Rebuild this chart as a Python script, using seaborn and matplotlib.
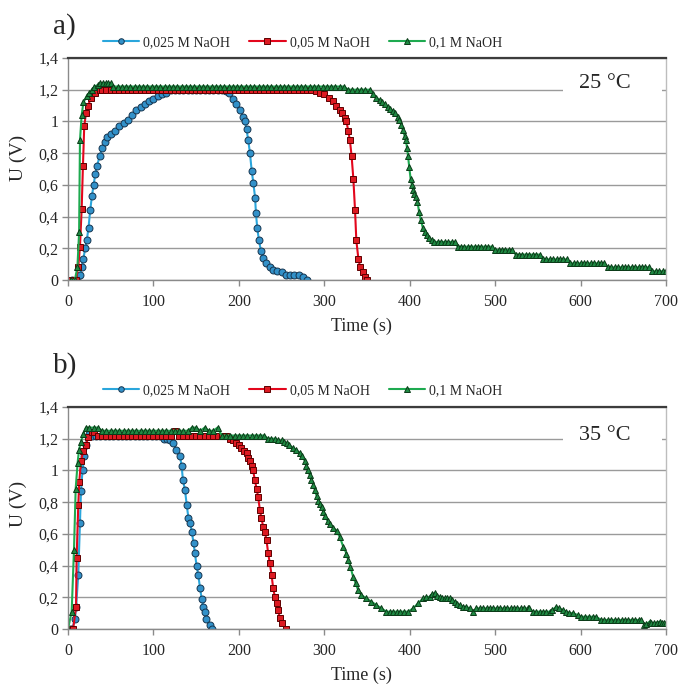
import numpy as np
import pandas as pd
import seaborn as sns
import matplotlib
matplotlib.use("Agg")
import matplotlib.pyplot as plt
from matplotlib.patches import Rectangle

# ---------------- data (time s, U V) ----------------
series_names = ["0,025 M NaOH", "0,05 M NaOH", "0,1 M NaOH"]
panel_labels = ["a)", "b)"]
temps = ["25 °C", "35 °C"]
x_ticks = [0, 100, 200, 300, 400, 500, 600, 700]
y_ticks = [0, 0.2, 0.4, 0.6, 0.8, 1.0, 1.2, 1.4]
y_ticklabels = ["0", "0,2", "0,4", "0,6", "0,8", "1", "1,2", "1,4"]

blue_a = [(5,0),(10,0),(14,0.03),(16,0.08),(18,0.13),(20,0.2),(22,0.25),(24,0.33),(26,0.44),(28,0.53),
          (30,0.6),(32,0.67),(34,0.72),(37,0.78),(40,0.83),(43,0.87),(46,0.9),(50,0.92),(55,0.94),(60,0.97),
          (65,0.99),(70,1.01),(75,1.04),(80,1.07),(85,1.09),(90,1.11),(95,1.13),(100,1.14),(105,1.16),(110,1.17),
          (115,1.18),(120,1.2),(125,1.2),(130,1.2),(135,1.2),(140,1.2),(145,1.2),(150,1.2),(155,1.2),(160,1.2),
          (165,1.2),(170,1.2),(175,1.2),(180,1.2),(185,1.19),(189,1.18),(193,1.14),(197,1.11),(201,1.07),(205,1.03),
          (207,1.0),(209,0.95),(211,0.88),(213,0.8),(215,0.69),(217,0.61),(219,0.52),(220,0.42),(221.5,0.33),(223.5,0.25),
          (226,0.18),(228.5,0.14),(232,0.11),(236,0.08),(240,0.065),(245,0.055),(250,0.05),(255,0.03),(260,0.03),(265,0.03),
          (270,0.03),(275,0.02),(280,0)]

red_a = [(3,0),(6,0),(9,0),(12,0.08),(14,0.21),(16,0.45),(17.5,0.72),(19,0.97),(21,1.05),(23.5,1.1),
         (27,1.15),(32,1.18),(37,1.2),(40,1.2),(45,1.2),(50,1.2),(55,1.2),(60,1.2),(65,1.2),(70,1.2),
         (75,1.2),(80,1.2),(85,1.2),(90,1.2),(95,1.2),(100,1.2),(105,1.2),(110,1.2),(115,1.2),(120,1.2),
         (125,1.2),(130,1.2),(135,1.2),(140,1.2),(145,1.2),(150,1.2),(155,1.2),(160,1.2),(165,1.2),(170,1.2),
         (175,1.2),(180,1.2),(185,1.2),(190,1.2),(195,1.2),(200,1.2),(205,1.2),(210,1.2),(215,1.2),(220,1.2),
         (225,1.2),(230,1.2),(235,1.2),(240,1.2),(245,1.2),(250,1.2),(255,1.2),(260,1.2),(265,1.2),(270,1.2),
         (275,1.2),(280,1.2),(285,1.2),(290,1.19),(295,1.18),(300,1.17),(305,1.15),(310,1.13),(314,1.1),(318,1.07),
         (321,1.05),(324,1.02),(326,1.0),(328,0.94),(330,0.88),(332,0.78),(334,0.64),(336,0.44),(337.5,0.25),(340,0.13),
         (342,0.08),(345,0.05),(348,0.02),(350,0)]

green_a = [(3,0),(8,0),(11,0.08),(13,0.3),(14,0.88),(16,1.04),(18,1.12),(22,1.16),(25,1.18),(28,1.2),
           (31,1.22),(35,1.23),(38,1.24),(41,1.24),(44,1.24),(47,1.24),(50,1.24),(53,1.22),(58,1.22),(63,1.22),
           (68,1.22),(73,1.22),(78,1.22),(83,1.22),(88,1.22),(93,1.22),(98,1.22),(103,1.22),(108,1.22),(113,1.22),
           (118,1.22),(123,1.22),(128,1.22),(133,1.22),(138,1.22),(143,1.22),(148,1.22),(153,1.22),(158,1.22),(163,1.22),
           (168,1.22),(173,1.22),(178,1.22),(183,1.22),(188,1.22),(193,1.22),(198,1.22),(203,1.22),(208,1.22),(213,1.22),
           (218,1.22),(223,1.22),(228,1.22),(233,1.22),(238,1.22),(243,1.22),(248,1.22),(253,1.22),(258,1.22),(263,1.22),
           (268,1.22),(273,1.22),(278,1.22),(283,1.22),(288,1.22),(293,1.22),(298,1.22),(303,1.22),(308,1.22),(313,1.22),
           (318,1.22),(323,1.22),(328,1.2),(333,1.2),(338,1.2),(343,1.2),(348,1.2),(353,1.2),(357,1.17),(361,1.15),
           (365,1.135),(368,1.12),(371,1.11),(374,1.09),(377,1.08),(380,1.065),(383,1.05),(386,1.03),(388,1.01),(390,0.98),
           (392,0.946),(394,0.91),(395.5,0.88),(397,0.83),(398,0.78),(399.5,0.71),(401,0.64),(402.5,0.6),(404,0.567),(405.5,0.545),
           (407,0.525),(409,0.494),(411,0.43),(413,0.378),(415.5,0.326),(418,0.3),(420,0.285),(423,0.263),(426,0.25),(429,0.24),
           (433,0.24),(437,0.24),(441,0.24),(445,0.24),(449,0.24),(453,0.24),(456,0.21),(460,0.21),(464,0.21),(468,0.21),
           (472,0.21),(476,0.21),(480,0.21),(484,0.21),(488,0.21),(492,0.21),(496,0.21),(500,0.19),(504,0.19),(508,0.19),
           (512,0.19),(516,0.19),(520,0.19),(524,0.16),(528,0.16),(532,0.16),(536,0.16),(540,0.16),(544,0.16),(548,0.16),
           (552,0.16),(556,0.13),(560,0.13),(564,0.13),(568,0.13),(572,0.13),(576,0.13),(580,0.13),(584,0.13),(588,0.105),
           (592,0.105),(596,0.105),(600,0.105),(604,0.105),(608,0.105),(612,0.105),(616,0.105),(620,0.105),(624,0.105),(628,0.105),
           (632,0.08),(636,0.08),(640,0.08),(644,0.08),(648,0.08),(652,0.08),(656,0.08),(660,0.08),(664,0.08),(668,0.08),
           (672,0.08),(676,0.08),(680,0.08),(684,0.055),(688,0.055),(692,0.055),(696,0.055),(700,0.055)]

blue_b = [(2,0),(5,0),(8,0.06),(9.5,0.14),(12,0.34),(14,0.67),(15.2,0.87),(17,1.0),(19,1.09),(21,1.16),
          (24,1.23),(28,1.22),(33,1.22),(38,1.22),(43,1.22),(48,1.22),(53,1.22),(58,1.22),(63,1.22),(68,1.22),
          (73,1.22),(78,1.22),(83,1.22),(88,1.22),(93,1.22),(98,1.22),(103,1.22),(108,1.22),(112,1.2),(116,1.2),
          (119,1.19),(123,1.17),(127,1.13),(131,1.09),(133,1.03),(134.5,0.94),(137,0.875),(139,0.78),(141,0.7),(143,0.67),
          (145,0.61),(147,0.54),(148.5,0.48),(150.5,0.4),(152.5,0.34),(154.5,0.26),(156.5,0.19),(158.5,0.14),(160,0.11),(162,0.06),
          (166,0.025),(169,0)]

red_b = [(2,0),(6,0),(9.4,0.14),(10.1,0.45),(12,0.78),(13.2,0.93),(15.2,1.06),(17.9,1.12),(21,1.16),(23.8,1.21),
         (27.7,1.24),(31,1.24),(35,1.22),(40,1.22),(45,1.22),(50,1.22),(55,1.22),(60,1.22),(65,1.22),(70,1.22),
         (75,1.22),(80,1.22),(85,1.22),(90,1.22),(95,1.22),(100,1.22),(105,1.22),(110,1.22),(115,1.22),(120,1.22),
         (125,1.25),(130,1.22),(135,1.22),(140,1.22),(145,1.22),(150,1.22),(155,1.22),(160,1.22),(165,1.22),(170,1.22),
         (175,1.22),(180,1.22),(185,1.22),(189.5,1.2),(193,1.19),(197,1.17),(200,1.16),(203,1.14),(206,1.12),(209,1.11),
         (211,1.08),(213,1.06),(215,1.03),(216.7,1.0),(218.7,0.94),(220.7,0.886),(222.6,0.833),(224.6,0.75),(226.5,0.697),(228.5,0.644),
         (230.4,0.613),(232.4,0.56),(234.3,0.477),(236.3,0.414),(238.3,0.34),(240.2,0.256),(242.2,0.203),(244.1,0.162),(246,0.12),(248,0.067),
         (251,0.036),(255.7,0)]

green_b = [(0,0),(4.3,0.11),(7,0.5),(9,0.886),(11.3,1.05),(12.9,1.13),(15.2,1.18),(17.9,1.23),(21,1.27),(25,1.27),
           (30,1.27),(35,1.27),(40,1.25),(45,1.25),(50,1.25),(55,1.25),(60,1.25),(65,1.25),(70,1.25),(75,1.25),
           (80,1.25),(85,1.25),(90,1.25),(95,1.25),(100,1.25),(105,1.25),(110,1.25),(115,1.25),(120,1.25),(125,1.25),
           (130,1.25),(135,1.25),(140,1.25),(145,1.27),(150,1.27),(155,1.25),(160,1.27),(165,1.25),(170,1.25),(175,1.27),
           (180,1.22),(185,1.22),(190,1.22),(195,1.22),(200,1.22),(205,1.22),(210,1.22),(215,1.22),(220,1.22),(225,1.22),
           (230,1.22),(234,1.2),(238,1.2),(242,1.2),(246,1.19),(250,1.19),(253,1.18),(256,1.17),(259,1.16),(263.5,1.14),
           (267,1.13),(271.3,1.11),(274,1.09),(277.2,1.06),(279,1.03),(281,1.0),(283,0.97),(285,0.94),(287,0.91),(289,0.875),
           (291,0.84),(293,0.81),(295,0.79),(297,0.77),(299,0.74),(301,0.71),(304,0.68),(307,0.66),(310.3,0.64),(314.3,0.62),
           (318.2,0.58),(322.1,0.52),(326,0.476),(328,0.434),(330.6,0.392),(333.7,0.33),(336.8,0.288),(339.6,0.246),(343.4,0.214),(349.3,0.193),
           (355.1,0.172),(361,0.151),(366.8,0.13),(372.7,0.109),(377,0.109),(381,0.109),(385,0.109),(389,0.109),(393,0.109),(398,0.109),
           (404,0.13),(409.8,0.162),(415.6,0.193),(419,0.2),(423.4,0.203),(426,0.22),(429.2,0.225),(432,0.21),(435,0.203),(438,0.193),
           (441,0.193),(444,0.193),(447,0.193),(450,0.18),(452.6,0.172),(455,0.16),(458.5,0.151),(462,0.14),(466.3,0.14),(470,0.13),
           (474.1,0.109),(478,0.13),(482,0.13),(486,0.13),(490,0.13),(494,0.13),(498,0.13),(502,0.13),(506,0.13),(510,0.13),
           (514,0.13),(518,0.13),(522,0.13),(526,0.13),(530,0.13),(534,0.13),(538,0.13),(540,0.13),(544.3,0.109),(548,0.109),
           (552,0.109),(556,0.109),(560,0.109),(563.7,0.109),(567,0.12),(571.5,0.14),(575,0.13),(579.3,0.12),(583,0.11),(587,0.1),
           (591,0.1),(596.8,0.088),(600,0.077),(605,0.077),(610,0.077),(614,0.077),(618,0.077),(624.2,0.057),(628,0.057),(632,0.057),
           (636,0.057),(640,0.057),(644,0.057),(648,0.057),(652,0.057),(656,0.057),(660,0.057),(664,0.057),(668,0.057),(671,0.057),
           (674.8,0.025),(677,0.03),(680.7,0.046),(683,0.04),(686.5,0.036),(689,0.04),(692.4,0.046),(695,0.04),(698.2,0.036),(700,0.04)]

panels_data = [[blue_a, red_a, green_a], [blue_b, red_b, green_b]]

# ---------------- build tidy frame ----------------
rows = []
for p, plist in enumerate(panels_data):
    for name, pts in zip(series_names, plist):
        for t, u in pts:
            rows.append({"panel": p, "series": name, "time": t, "U": u})
df = pd.DataFrame(rows)

# ---------------- style ----------------
sns.set_theme(style="white")
plt.rcParams["font.family"] = ["Liberation Serif", "DejaVu Serif"]

styles = {
    "0,025 M NaOH": dict(color="#2aa6dc", marker="o", markersize=5.0, markerfacecolor="#3291c9", markeredgecolor="#16354f"),
    "0,05 M NaOH": dict(color="#e3061c", marker="s", markersize=4.6, markerfacecolor="#dd1a22", markeredgecolor="#5e0000"),
    "0,1 M NaOH": dict(color="#1eaa50", marker="^", markersize=5.0, markerfacecolor="#1f8a43", markeredgecolor="#0a3a17"),
}

fig = plt.figure(figsize=(6.81, 6.86), dpi=100)
left, width, height = 68 / 681, 598 / 681, 222 / 686
axes = [fig.add_axes([left, (686 - 280) / 686, width, height]),
        fig.add_axes([left, (686 - 629) / 686, width, height])]

label_y = [0.55, 0.565]
legend_y = [1.069, 1.075]
temp_y = [0.887, 0.873]
panel_fig_y = [1 - 27 / 686, 1 - 366 / 686]

for p, ax in enumerate(axes):
    sub = df[df.panel == p]
    for name in series_names:
        s = sub[sub.series == name]
        sns.lineplot(data=s, x="time", y="U", ax=ax, estimator=None, sort=False,
                     linewidth=1.5, markeredgewidth=0.7, label=name, **styles[name])
    ax.set_xlim(0, 700)
    ax.set_ylim(0, 1.4)
    ax.set_xticks(x_ticks)
    ax.set_xticklabels([str(v) for v in x_ticks], fontsize=11.5)
    ax.set_yticks(y_ticks)
    ax.set_yticklabels(y_ticklabels, fontsize=11.5)
    ax.set_axisbelow(True)
    ax.yaxis.grid(True, color="#9a9a9a", linewidth=1.0)
    ax.xaxis.grid(False)
    ax.tick_params(axis="x", length=4, width=1, color="#8a8a8a", pad=6, direction="out", bottom=True)
    ax.tick_params(axis="y", length=4, width=1, color="#8a8a8a", pad=3, direction="out", left=True)
    for side in ["left", "bottom"]:
        ax.spines[side].set_color("#8a8a8a")
        ax.spines[side].set_linewidth(1.0)
    ax.spines["right"].set_color("#bdbdbd")
    ax.spines["right"].set_linewidth(1.0)
    ax.spines["top"].set_color("#3c3c3c")
    ax.spines["top"].set_linewidth(1.6)

    ax.set_xlabel("Time (s)", fontsize=13)
    ax.xaxis.set_label_coords(0.491, -0.172)
    ax.set_ylabel("U (V)", fontsize=14)
    ax.yaxis.set_label_coords(-0.069, label_y[p])

    # white text box covering the gridline behind the temperature label
    ax.add_patch(Rectangle((0.828, 0.80), 0.165, 0.15, transform=ax.transAxes,
                           facecolor="white", edgecolor="none", zorder=2.6))
    ax.text(0.898, temp_y[p], temps[p], transform=ax.transAxes, fontsize=16,
            ha="center", va="center", zorder=3)

    handles, labels = ax.get_legend_handles_labels()
    ax.legend(handles, labels, ncol=3, loc="center left", bbox_to_anchor=(0.058, legend_y[p]),
              frameon=False, fontsize=10, handlelength=2.6, handletextpad=0.3,
              columnspacing=1.4, borderpad=0, borderaxespad=0, markerscale=0.8)

    fig.text(0.095, panel_fig_y[p], panel_labels[p], fontsize=21, ha="center", va="center")

fig.savefig("out.png", dpi=100)
